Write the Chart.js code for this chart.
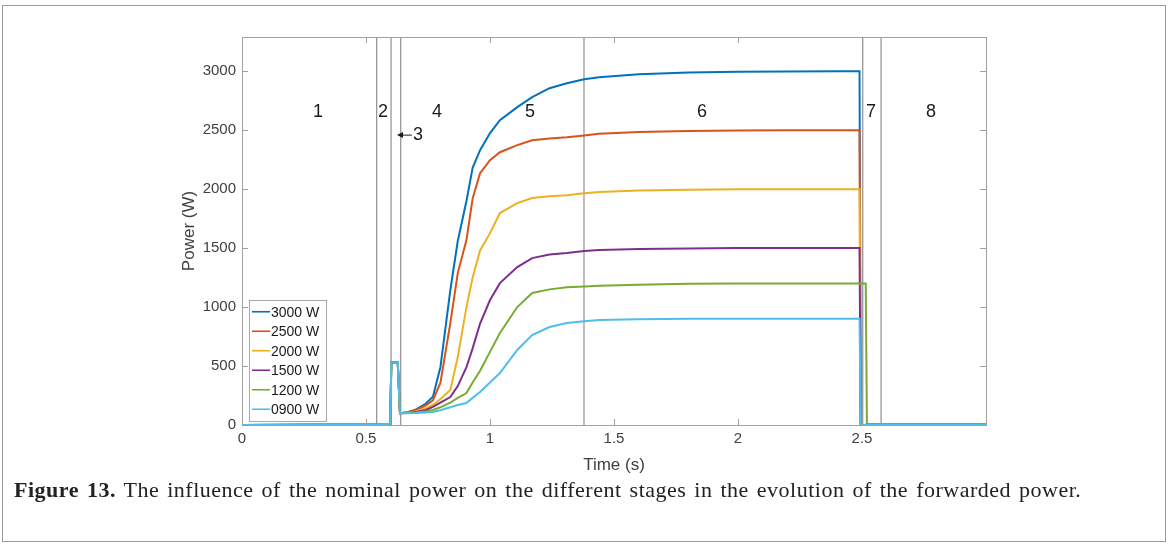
<!DOCTYPE html>
<html>
<head>
<meta charset="utf-8">
<script src="https://cdn.jsdelivr.net/npm/chart.js@4.4.1/dist/chart.umd.min.js"></script>
<style>
  html, body { margin: 0; padding: 0; background: #fff; }
  #frame { position: absolute; left: 2px; top: 5px; width: 1162px; height: 535px; border: 1px solid #9a9a9a; }
  #wrap { position: absolute; left: 0; top: 0; width: 1168px; height: 480px; }
  #caption { position: absolute; left: 14px; top: 477px; font-family: 'Liberation Serif', 'DejaVu Serif', serif; font-size: 22px; letter-spacing: 0.5px; word-spacing: 2px; color: #222; white-space: nowrap; }
</style>
</head>
<body>
<div id="frame"></div>
<div id="wrap"><canvas id="potencia"></canvas></div>
<div id="caption"><b>Figure 13.</b> The influence of the nominal power on the different stages in the evolution of the forwarded power.</div>
<script>
// tiempo (s), comun a todas las series
const tiempo = [0, 0.55, 0.598, 0.602, 0.628, 0.637, 0.66, 0.7, 0.74, 0.77, 0.8, 0.84, 0.87, 0.905, 0.93, 0.96, 1.0, 1.04, 1.11, 1.17, 1.24, 1.31, 1.38, 1.44, 1.6, 1.8, 2.0, 2.2, 2.4, 2.49, 2.495, 2.515, 2.52, 3.0];

const p3000 = [0, 5, 10, 530, 530, 100, 105, 130, 180, 240, 490, 1144, 1560, 1900, 2180, 2330, 2475, 2585, 2695, 2780, 2856, 2898, 2932, 2949, 2975, 2988, 2995, 2998, 3000, 3000, 0, 0, 5, 5];
const p2500 = [0, 5, 10, 530, 530, 100, 105, 125, 165, 210, 356, 864, 1288, 1568, 1920, 2135, 2245, 2313, 2373, 2415, 2430, 2440, 2455, 2470, 2485, 2493, 2497, 2500, 2500, 2500, 0, 0, 5, 5];
const p2000 = [0, 5, 10, 530, 530, 100, 103, 115, 140, 170, 220, 297, 576, 1000, 1250, 1480, 1627, 1797, 1881, 1924, 1940, 1949, 1965, 1975, 1988, 1995, 1998, 2000, 2000, 2000, 0, 0, 5, 5];
const p1500 = [0, 5, 10, 530, 530, 100, 102, 110, 125, 153, 190, 237, 330, 490, 650, 860, 1060, 1203, 1339, 1415, 1445, 1458, 1475, 1483, 1492, 1497, 1500, 1500, 1500, 1500, 0, 0, 5, 5];
const p1200 = [0, 5, 10, 530, 530, 100, 101, 105, 115, 127, 150, 190, 230, 271, 360, 460, 620, 780, 1000, 1119, 1150, 1169, 1175, 1180, 1190, 1197, 1200, 1200, 1200, 1200, 1200, 1200, 5, 5];
const p0900 = [0, 5, 10, 530, 530, 100, 100, 102, 106, 110, 125, 150, 170, 186, 230, 280, 360, 441, 636, 763, 831, 864, 880, 890, 897, 900, 900, 900, 900, 900, 0, 0, 5, 5];

const series = ['3000 W', '2500 W', '2000 W', '1500 W', '1200 W', '0900 W'];
const valores = [p3000, p2500, p2000, p1500, p1200, p0900];
const colores = ['#0072BD', '#D95319', '#EDB120', '#7E2F8E', '#77AC30', '#4DBEEE'];

// limites de las etapas (s)
const limitesEtapas = [0.543, 0.601, 0.640, 1.379, 2.503, 2.577];
const etapas = ['1', '2', '4', '5', '6', '7', '8'];
const etapasT = [0.306, 0.569, 0.786, 1.161, 1.855, 2.536, 2.778];

const xTicks = [0, 0.5, 1, 1.5, 2, 2.5];
const yTicks = [0, 500, 1000, 1500, 2000, 2500, 3000];
const Y_MAX = 3290;
const X_MAX = 3.0;

const fuente = "'Liberation Sans', Arial, sans-serif";
const gris = '#404040';

const datasets = series.map((s, i) => ({
  label: s,
  data: tiempo.map((t, k) => ({ x: t, y: valores[i][k] })),
  borderColor: colores[i],
  borderWidth: 2,
  pointRadius: 0,
  tension: 0,
  order: series.length - i
}));

limitesEtapas.forEach(t => {
  datasets.push({
    label: '',
    data: [{ x: t, y: 0 }, { x: t, y: Y_MAX }],
    borderColor: '#8f8f8f',
    borderWidth: 1.2,
    pointRadius: 0,
    order: 20
  });
});

const extras = {
  id: 'extras',
  afterDatasetsDraw(chart) {
    const { ctx, chartArea: a, scales: { x, y } } = chart;
    ctx.save();
    // caja de ejes
    ctx.strokeStyle = '#a0a0a0';
    ctx.lineWidth = 1;
    ctx.strokeRect(a.left + 0.5, a.top + 0.5, a.right - a.left, a.bottom - a.top);
    // marcas hacia dentro en los cuatro lados
    ctx.beginPath();
    xTicks.forEach(v => {
      const px = Math.round(x.getPixelForValue(v)) + 0.5;
      ctx.moveTo(px, a.bottom); ctx.lineTo(px, a.bottom - 6);
      ctx.moveTo(px, a.top); ctx.lineTo(px, a.top + 6);
    });
    yTicks.forEach(v => {
      const py = Math.round(y.getPixelForValue(v)) + 0.5;
      ctx.moveTo(a.left, py); ctx.lineTo(a.left + 6, py);
      ctx.moveTo(a.right, py); ctx.lineTo(a.right - 6, py);
    });
    ctx.stroke();

    // etiquetas de etapas
    ctx.fillStyle = '#1a1a1a';
    ctx.font = "18px " + fuente;
    ctx.textAlign = 'center';
    ctx.textBaseline = 'middle';
    etapas.forEach((e, i) => ctx.fillText(e, x.getPixelForValue(etapasT[i]), y.getPixelForValue(2655)));

    // flecha de la etapa 3
    const yf = y.getPixelForValue(2458);
    const xp = x.getPixelForValue(0.625), xc = x.getPixelForValue(0.685);
    ctx.strokeStyle = '#1a1a1a';
    ctx.lineWidth = 1;
    ctx.beginPath();
    ctx.moveTo(xp + 4, yf); ctx.lineTo(xc, yf);
    ctx.stroke();
    ctx.beginPath();
    ctx.moveTo(xp, yf); ctx.lineTo(xp + 6, yf - 3); ctx.lineTo(xp + 6, yf + 3); ctx.closePath();
    ctx.fill();
    ctx.fillText('3', x.getPixelForValue(0.71), yf);

    // leyenda dentro del area
    const lx = a.left + 7, lw = 77, fila = 19.5;
    const lh = fila * series.length + 4;
    const ly = a.bottom - 4 - lh;
    ctx.fillStyle = '#fff';
    ctx.fillRect(lx, ly, lw, lh);
    ctx.strokeStyle = '#a8a8a8';
    ctx.strokeRect(lx + 0.5, ly + 0.5, lw, lh);
    ctx.font = "14px " + fuente;
    ctx.textAlign = 'left';
    series.forEach((s, i) => {
      const cy = ly + 2 + fila * (i + 0.5);
      ctx.strokeStyle = colores[i];
      ctx.lineWidth = 1.6;
      ctx.beginPath();
      ctx.moveTo(lx + 3, cy); ctx.lineTo(lx + 21, cy);
      ctx.stroke();
      ctx.fillStyle = '#1a1a1a';
      ctx.fillText(s, lx + 22, cy + 1);
    });
    ctx.restore();
  }
};

const ctx13 = document.getElementById('potencia').getContext('2d');

new Chart(ctx13, {
  type: 'line',
  data: { datasets },
  plugins: [extras],
  options: {
    responsive: true,
    maintainAspectRatio: false,
    animation: false,
    layout: { padding: { left: 179, right: 182, top: 37, bottom: 4 } },
    plugins: {
      legend: { display: false },
      tooltip: { enabled: false }
    },
    scales: {
      x: {
        type: 'linear',
        min: 0,
        max: X_MAX,
        afterBuildTicks: s => { s.ticks = xTicks.map(v => ({ value: v })); },
        afterFit: s => { s.height = 51; },
        grid: { display: false, drawTicks: false },
        border: { display: false },
        ticks: { callback: v => String(v), color: gris, font: { family: fuente, size: 15 }, padding: 5, maxRotation: 0 },
        title: { display: true, text: 'Time (s)', color: gris, font: { family: fuente, size: 17 }, padding: 0 }
      },
      y: {
        min: 0,
        max: Y_MAX,
        afterBuildTicks: s => { s.ticks = yTicks.map(v => ({ value: v })); },
        afterFit: s => { s.width = 63; },
        grid: { display: false, drawTicks: false },
        border: { display: false },
        ticks: { callback: v => String(v), color: gris, font: { family: fuente, size: 15 }, padding: 6 },
        title: { display: true, text: 'Power (W)', color: gris, font: { family: fuente, size: 17 }, padding: 0 }
      }
    }
  }
});
</script>
</body>
</html>
